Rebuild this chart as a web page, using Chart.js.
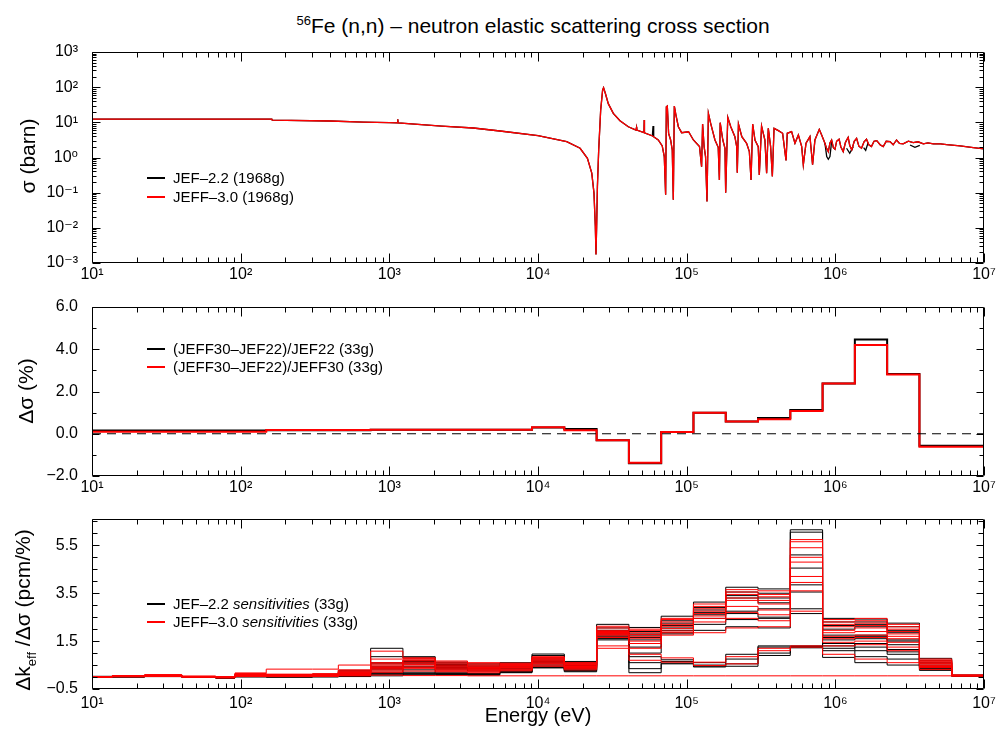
<!DOCTYPE html>
<html lang="en">
<head>
<meta charset="UTF-8">
<title>56Fe (n,n) - neutron elastic scattering cross section</title>
<script src="https://cdn.jsdelivr.net/npm/chart.js"></script>
<style>
  body { margin: 0; background: #fff; font-family: 'Liberation Sans', Arial, sans-serif; color: #000; }
  #page { position: relative; width: 996px; height: 738px; overflow: hidden; }
  canvas { position: absolute; left: 0; }
  .txt { position: absolute; white-space: nowrap; }
  .ytitle { position: absolute; white-space: nowrap; font-size: 21px; transform: translate(-50%, -50%) rotate(-90deg); }
  .leg { position: absolute; left: 147px; height: 18px; line-height: 18px; font-size: 15px; white-space: nowrap; display: flex; align-items: center; }
  .leg .ln { display: inline-block; width: 18px; margin-right: 8px; }
  .leg .blk { height: 1.5px; background: #000; }
  .leg .red { height: 2px; background: #ff0000; }
</style>
</head>
<body>
<div id="page">
  <div class="txt" style="left:533px; top:13px; font-size:21px; transform:translateX(-50%);"><sup style="font-size:13px;">56</sup>Fe (n,n) – neutron elastic scattering cross section</div>

  <canvas id="xsChart" width="996" height="250" style="top:40px"></canvas>
  <canvas id="dsChart" width="996" height="210" style="top:295px"></canvas>
  <canvas id="skChart" width="996" height="231" style="top:507px"></canvas>

  <div class="ytitle" style="left:28px; top:156px;">σ (barn)</div>
  <div class="ytitle" style="left:26px; top:391px;">Δσ (%)</div>
  <div class="ytitle" style="left:25px; top:610px;">Δk<sub style="font-size:13px;">eff</sub> /Δσ (pcm/%)</div>
  <div class="txt" style="left:538px; top:704px; font-size:20px; transform:translateX(-50%);">Energy (eV)</div>

  <div class="leg" style="top:169px;"><span class="ln blk"></span>JEF–2.2 (1968g)</div>
  <div class="leg" style="top:188px;"><span class="ln red"></span>JEFF–3.0 (1968g)</div>
  <div class="leg" style="top:340px;"><span class="ln blk"></span>(JEFF30–JEF22)/JEF22 (33g)</div>
  <div class="leg" style="top:358px;"><span class="ln red"></span>(JEFF30–JEF22)/JEFF30 (33g)</div>
  <div class="leg" style="top:595px;"><span class="ln blk"></span>JEF–2.2&nbsp;<i>sensitivities</i>&nbsp;(33g)</div>
  <div class="leg" style="top:613px;"><span class="ln red"></span>JEFF–3.0&nbsp;<i>sensitivities</i>&nbsp;(33g)</div>
</div>

<script>
// ---- data ----
const energyTicks = [1e1, 1e2, 1e3, 1e4, 1e5, 1e6, 1e7];
const sigmaTicks = [1e-3, 1e-2, 1e-1, 1e0, 1e1, 1e2, 1e3];
const dsigmaTicks = [-2, 0, 2, 4, 6];
const sensTicks = [-0.5, 1.5, 3.5, 5.5];

// 33-group boundaries (eV), part shown on the axis
const groupBounds = [10, 13.71, 22.60, 40.17, 67.90, 91.66, 148.6, 304.3, 454.0, 748.5, 1234, 2035, 3355, 5531,
  9119, 15030, 24790, 40870, 67380, 111100, 183200, 302000, 497900, 820900, 1353000, 2231000, 3679000, 6065000, 10000000];

// elastic cross section, [E (eV), sigma (b)]
const jeff30Points = [
  [10, 12.4], [162, 12.4], [163, 11.6], [399, 10.9], [668, 10.2], [1000, 9.75], [1135, 9.6], [1140, 12.2], [1145, 9.6],
  [2250, 7.85], [3670, 6.9], [5550, 5.67], [1.0e4, 4.18], [1.56e4, 2.83], [1.92e4, 1.83], [2.15e4, 0.95], [2.30e4, 0.36],
  [2.38e4, 0.097], [2.43e4, 0.011], [2.455e4, 0.00174], [2.48e4, 0.011], [2.51e4, 0.15], [2.56e4, 1.64], [2.64e4, 22.3],
  [2.72e4, 82], [2.76e4, 96], [2.84e4, 66], [2.97e4, 34], [3.21e4, 18], [3.56e4, 11.1], [4.05e4, 7.5], [4.56e4, 6.05],
  [4.60e4, 7.2], [4.62e4, 6.0], [5.16e4, 5.08], [5.18e4, 11.6], [5.20e4, 5.05], [5.9e4, 4.09], [6.44e4, 3.15],
  [6.85e4, 2.13], [7.07e4, 1.06], [7.22e4, 0.087], [7.30e4, 27.7], [7.41e4, 29], [7.56e4, 4.87], [7.80e4, 3.15],
  [8.0e4, 1.64], [8.13e4, 0.063], [8.26e4, 29], [8.47e4, 16.1], [8.79e4, 7.5], [9.25e4, 5.08], [1.03e5, 5.4],
  [1.11e5, 3.15], [1.22e5, 2.04], [1.26e5, 0.55], [1.28e5, 8.95], [1.31e5, 2.04], [1.34e5, 1.06], [1.37e5, 0.056],
  [1.40e5, 18], [1.45e5, 9.35], [1.55e5, 3.15], [1.63e5, 1.95], [1.66e5, 0.23], [1.68e5, 9.8], [1.75e5, 3.15],
  [1.81e5, 1.83], [1.83e5, 0.10], [1.89e5, 13.8], [1.98e5, 7.5], [2.11e5, 3.92], [2.17e5, 2.04], [2.19e5, 0.37],
  [2.23e5, 8.95], [2.35e5, 3.92], [2.53e5, 2.54], [2.64e5, 1.47], [2.71e5, 0.23], [2.78e5, 8.95], [2.88e5, 3.15],
  [3.03e5, 2.04], [3.08e5, 0.32], [3.19e5, 7.85], [3.36e5, 3.15], [3.45e5, 0.36], [3.54e5, 6.75], [3.67e5, 2.04],
  [3.77e5, 0.29], [3.87e5, 6.75], [4.14e5, 5.8], [4.42e5, 4.87], [4.66e5, 0.82], [4.75e5, 4.87], [5.08e5, 5.42],
  [5.35e5, 2.54], [5.64e5, 4.36], [5.94e5, 2.04], [6.09e5, 0.62], [6.35e5, 2.54], [6.75e5, 3.92], [7.03e5, 0.62],
  [7.29e5, 3.15], [7.80e5, 6.32], [8.09e5, 4.36], [8.51e5, 2.54], [8.7e5, 1.9], [8.97e5, 1.47], [9.2e5, 2.6],
  [9.44e5, 3.15], [9.7e5, 1.9], [9.95e5, 1.71], [1.02e6, 2.9], [1.06e6, 3.3], [1.09e6, 2.0], [1.13e6, 1.47],
  [1.17e6, 2.7], [1.22e6, 3.75], [1.25e6, 2.2], [1.29e6, 1.64], [1.34e6, 2.9], [1.39e6, 3.52], [1.44e6, 2.1],
  [1.50e6, 1.83], [1.56e6, 2.8], [1.62e6, 3.3], [1.68e6, 2.3], [1.75e6, 2.04], [1.82e6, 2.9], [1.90e6, 3.02],
  [2.0e6, 2.3], [2.10e6, 2.04], [2.2e6, 2.9], [2.33e6, 2.83], [2.45e6, 2.3], [2.58e6, 3.15], [2.7e6, 2.5],
  [2.86e6, 2.43], [3.1e6, 2.9], [3.34e6, 2.65], [3.6e6, 2.8], [3.91e6, 2.43], [4.2e6, 2.6], [4.56e6, 2.43],
  [5.1e6, 2.45], [5.61e6, 2.32], [6.9e6, 2.13], [8.47e6, 1.91], [1.0e7, 1.75]
];
// JEF-2.2 follows the same curve except these stretches
const jef22Segments = [
  [[5.88e4, 4.15], [5.94e4, 7.85], [6.0e4, 4.05]],
  [[8.51e5, 2.54], [8.75e5, 1.06], [8.97e5, 0.89], [9.2e5, 1.06], [9.44e5, 2.83]],
  [[1.19e6, 1.83], [1.25e6, 1.32], [1.32e6, 2.04]],
  [[1.55e6, 1.9], [1.6e6, 1.6], [1.66e6, 2.6]],
  [[3.18e6, 2.27], [3.43e6, 1.95], [3.7e6, 2.2]]
];

// relative difference per group (%)
const dsigJef22 = [0.15, 0.15, 0.15, 0.15, 0.15, 0.15, 0.17, 0.17, 0.17, 0.19, 0.19, 0.19, 0.19, 0.19,
  0.29, 0.22, -0.31, -1.40, 0.08, 0.99, 0.58, 0.74, 1.13, 2.38, 4.46, 2.83, -0.57, -0.57];
const dsigJeff30 = [0.09, 0.09, 0.09, 0.09, 0.09, 0.09, 0.18, 0.18, 0.18, 0.19, 0.19, 0.19, 0.19, 0.19,
  0.31, 0.17, -0.31, -1.37, 0.08, 0.99, 0.58, 0.69, 1.08, 2.38, 4.20, 2.80, -0.61, -0.61];

// k-eff sensitivities per group (pcm/%), one row per benchmark
const sensJef22 = [
  [0.03,0.05,0.08,0.02,0.00,0.12,0.10,0.12,0.28,1.20,0.85,0.62,0.55,0.60,0.96,0.65,2.20,2.07,2.54,3.13,3.75,3.68,6.15,2.45,2.42,2.25,0.78,0.08],
  [0.02,0.04,0.07,0.02,0.00,0.10,0.08,0.10,0.22,0.85,0.80,0.58,0.50,0.55,0.90,0.60,2.05,1.90,2.35,2.90,3.55,3.50,6.05,2.30,2.30,2.10,0.70,0.07],
  [0.02,0.04,0.06,0.02,-0.02,0.08,0.06,0.08,0.18,0.60,0.70,0.52,0.45,0.50,0.80,0.55,1.95,1.80,2.25,2.80,3.40,3.30,5.10,2.15,2.20,1.95,0.62,0.07],
  [0.01,0.03,0.06,0.01,-0.02,0.06,0.05,0.07,0.15,0.55,0.65,0.48,0.40,0.45,0.75,0.50,1.90,1.75,2.15,2.70,3.30,3.10,4.55,2.00,2.10,1.85,0.58,0.06],
  [0.01,0.03,0.05,0.01,-0.03,0.05,0.04,0.06,0.12,0.45,0.60,0.45,0.38,0.40,0.70,0.48,1.85,1.65,2.05,2.60,2.75,2.85,3.85,1.75,1.75,1.55,0.50,0.06],
  [0.01,0.02,0.05,0.00,-0.03,0.04,0.03,0.05,0.10,0.40,0.55,0.40,0.35,0.38,0.65,0.45,1.80,1.55,1.95,2.45,2.65,2.50,3.55,1.65,1.70,1.50,0.45,0.05],
  [0.01,0.02,0.04,0.00,-0.03,0.03,0.02,0.04,0.08,0.35,0.45,0.35,0.30,0.35,0.60,0.40,1.70,1.25,1.85,2.20,2.40,2.45,2.85,1.55,1.60,1.35,0.42,0.05],
  [0.00,0.02,0.04,0.00,-0.03,0.03,0.02,0.03,0.06,0.30,0.40,0.30,0.25,0.30,0.55,0.35,1.62,1.00,1.80,1.95,2.10,2.05,2.65,1.30,1.40,1.15,0.40,0.05],
  [0.00,0.01,0.03,0.00,-0.03,0.02,0.01,0.02,0.05,0.20,0.30,0.20,0.15,0.25,0.50,0.30,1.60,0.85,0.72,0.60,0.95,1.30,1.30,1.20,1.25,1.05,0.38,0.05],
  [0.00,0.01,0.03,0.00,-0.03,0.02,0.01,0.02,0.04,0.15,0.20,0.15,0.12,0.22,0.45,0.28,1.55,0.60,0.65,0.50,0.75,1.25,1.22,0.82,0.60,0.50,0.35,0.05],
  [0.00,0.01,0.02,0.00,-0.04,0.01,0.00,0.01,0.03,0.10,0.15,0.12,0.10,0.20,0.40,0.25,1.85,0.35,0.58,0.45,0.55,1.00,1.28,1.40,1.10,0.95,0.30,0.04],
  [0.00,0.00,0.02,0.00,-0.04,0.01,0.00,0.01,0.02,0.05,0.10,0.10,0.08,0.18,0.38,0.22,1.75,0.18,0.55,0.42,0.45,0.90,1.25,1.10,0.85,0.75,0.28,0.04]
];
const sensJeff30 = [
  [0.02,0.05,0.08,0.03,0.00,0.15,0.12,0.14,0.30,1.08,0.80,0.67,0.60,0.58,0.85,0.60,2.12,2.00,2.45,3.05,3.65,3.60,5.74,2.40,2.45,2.20,0.75,0.08],
  [0.02,0.05,0.08,0.02,0.00,0.12,0.10,0.12,0.26,0.75,0.78,0.62,0.55,0.55,0.82,0.58,2.05,1.95,2.40,2.95,3.55,3.45,5.65,2.30,2.35,2.10,0.70,0.08],
  [0.02,0.04,0.07,0.02,-0.01,0.10,0.08,0.10,0.22,0.60,0.72,0.55,0.50,0.52,0.78,0.55,1.95,1.85,2.30,2.85,3.45,3.35,5.40,2.20,2.25,2.00,0.66,0.07],
  [0.01,0.04,0.07,0.02,-0.01,0.09,0.07,0.09,0.20,0.55,0.68,0.50,0.46,0.48,0.74,0.52,1.90,1.78,2.20,2.75,3.30,3.20,5.00,2.10,2.15,1.90,0.62,0.07],
  [0.01,0.03,0.06,0.01,-0.02,0.08,0.06,0.08,0.18,0.50,0.62,0.46,0.42,0.45,0.70,0.50,1.86,1.70,2.12,2.65,3.20,3.05,4.80,1.95,2.05,1.80,0.58,0.06],
  [0.01,0.03,0.06,0.01,-0.02,0.07,0.05,0.07,0.15,0.45,0.58,0.42,0.40,0.42,0.66,0.47,1.82,1.62,2.02,2.55,2.95,2.80,4.20,1.85,1.90,1.70,0.55,0.06],
  [0.01,0.03,0.05,0.01,-0.02,0.06,0.05,0.06,0.13,0.40,0.52,0.38,0.36,0.40,0.62,0.44,1.78,1.50,1.92,2.45,2.70,2.60,3.95,1.70,1.75,1.60,0.50,0.06],
  [0.01,0.02,0.05,0.01,-0.03,0.05,0.04,0.05,0.11,0.35,0.46,0.34,0.32,0.37,0.58,0.40,1.72,1.40,1.85,2.30,2.45,2.35,3.60,1.60,1.65,1.45,0.47,0.06],
  [0.01,0.02,0.04,0.01,-0.03,0.04,0.03,0.04,0.09,0.30,0.40,0.30,0.28,0.33,0.55,0.38,1.65,1.20,1.75,1.85,2.05,2.10,2.75,1.45,1.50,1.25,0.44,0.05],
  [0.00,0.02,0.04,0.00,-0.03,0.03,0.02,0.03,0.07,0.25,0.35,0.26,0.24,0.30,0.50,0.35,1.30,0.95,0.80,0.62,0.85,1.20,1.30,1.30,1.35,1.10,0.40,0.05],
  [0.02,0.06,0.10,0.04,0.02,0.17,0.33,0.33,0.50,0.20,0.25,0.22,0.18,0.26,0.45,0.30,1.20,0.70,0.62,0.48,0.55,1.10,1.25,0.95,0.75,0.60,0.32,0.05],
  [0.00,0.01,0.02,0.00,-0.02,0.02,0.02,0.03,0.05,0.08,0.06,0.06,0.05,0.05,0.05,0.05,0.05,0.05,0.05,0.05,0.05,0.05,0.05,0.05,0.05,0.05,0.05,0.05]
];

// ---- helpers ----
Chart.defaults.font.family = "'Liberation Sans', Arial, 'DejaVu Sans', sans-serif";
Chart.defaults.color = '#000';

const SUP = {'-': '\u207B', '0': '\u2070', '1': '\u00B9', '2': '\u00B2', '3': '\u00B3', '4': '\u2074',
  '5': '\u2075', '6': '\u2076', '7': '\u2077', '8': '\u2078', '9': '\u2079'};
function powLabel(v) {
  const e = Math.round(Math.log10(v));
  return '10' + String(e).split('').map(c => SUP[c]).join('');
}
function fixedLabel(v) {
  return (v < 0 ? '\u2212' : '') + Math.abs(v).toFixed(1);
}

// group values -> step points
function steps(vals) {
  const pts = vals.map((v, i) => ({x: groupBounds[i], y: v}));
  pts.push({x: groupBounds[vals.length], y: vals[vals.length - 1]});
  return pts;
}

const energyMinor = [];
for (let d = 1; d < 7; d++) for (let m = 2; m < 10; m++) energyMinor.push(m * Math.pow(10, d));
const sigmaMinor = [];
for (let d = -3; d < 3; d++) for (let m = 2; m < 10; m++) sigmaMinor.push(m * Math.pow(10, d));

// frame with inward ticks on all four sides
const frameTicks = {
  id: 'frameTicks',
  afterDraw(chart, args, o) {
    const {ctx, chartArea: a} = chart;
    const x = chart.scales.x, y = chart.scales.y;
    const L = Math.round(a.left) + 0.5, R = Math.round(a.right) - 0.5;
    const T = Math.round(a.top) + 0.5, B = Math.round(a.bottom) - 0.5;
    ctx.save();
    ctx.strokeStyle = '#000';
    ctx.lineWidth = 1;
    ctx.beginPath();
    ctx.rect(L, T, R - L, B - T);
    const xt = (v, len) => {
      const p = Math.round(x.getPixelForValue(v)) + 0.5;
      ctx.moveTo(p, B); ctx.lineTo(p, B - len);
      ctx.moveTo(p, T); ctx.lineTo(p, T + len);
    };
    const yt = (v, len) => {
      const p = Math.round(y.getPixelForValue(v)) + 0.5;
      ctx.moveTo(L, p); ctx.lineTo(L + len, p);
      ctx.moveTo(R, p); ctx.lineTo(R - len, p);
    };
    energyTicks.forEach(v => xt(v, 9));
    energyMinor.forEach(v => xt(v, 5));
    o.major.forEach(v => yt(v, o.majorLen));
    o.minor.forEach(v => yt(v, o.minorLen));
    ctx.stroke();
    ctx.restore();
  }
};

function energyAxis(pad, h) {
  return {
    type: 'logarithmic', min: 10, max: 1e7,
    grid: {display: false, drawTicks: false}, border: {display: false},
    afterBuildTicks: s => { s.ticks = energyTicks.map(v => ({value: v})); },
    afterFit: s => { s.height = h; s.paddingLeft = 0; s.paddingRight = 0; },
    ticks: {font: {size: 16}, padding: pad, maxRotation: 0, autoSkip: false, callback: v => powLabel(v)}
  };
}
function valueAxis(type, min, max, ticks, fmt) {
  return {
    type: type, min: min, max: max,
    grid: {display: false, drawTicks: false}, border: {display: false},
    afterBuildTicks: s => { s.ticks = ticks.map(v => ({value: v})); },
    afterFit: s => { s.width = 92; s.paddingTop = 0; s.paddingBottom = 0; },
    ticks: {font: {size: 16}, padding: 14, autoSkip: false, callback: fmt}
  };
}
function baseOptions(x, y, frame) {
  return {
    responsive: false, devicePixelRatio: 1, animation: false, events: [],
    layout: {padding: {left: 0, right: 12, top: 12, bottom: 0}},
    elements: {point: {radius: 0}, line: {tension: 0}},
    plugins: {legend: {display: false}, tooltip: {enabled: false}, frameTicks: frame},
    scales: {x: x, y: y}
  };
}

// ---- panel 1: cross section ----
const xsSets = [
  {data: jeff30Points.map(p => ({x: p[0], y: p[1]})), borderColor: '#000', borderWidth: 1.3, order: 2},
  ...jef22Segments.map(seg => ({data: seg.map(p => ({x: p[0], y: p[1]})), borderColor: '#000', borderWidth: 1.3, order: 2})),
  {data: jeff30Points.map(p => ({x: p[0], y: p[1]})), borderColor: '#f00', borderWidth: 1.3, order: 1}
];
new Chart(document.getElementById('xsChart'), {
  type: 'line',
  data: {datasets: xsSets},
  options: baseOptions(energyAxis(2, 27), valueAxis('logarithmic', 1e-3, 1e3, sigmaTicks, v => powLabel(v)),
    {major: sigmaTicks, minor: sigmaMinor, majorLen: 8, minorLen: 4}),
  plugins: [frameTicks]
});

// ---- panel 2: relative difference ----
new Chart(document.getElementById('dsChart'), {
  type: 'line',
  data: {datasets: [
    {data: [{x: 10, y: 0}, {x: 1e7, y: 0}], borderColor: '#000', borderWidth: 1, borderDash: [9, 6], order: 0},
    {data: steps(dsigJef22), stepped: true, borderColor: '#000', borderWidth: 2, order: 2},
    {data: steps(dsigJeff30), stepped: true, borderColor: '#f00', borderWidth: 2, order: 1}
  ]},
  options: baseOptions(energyAxis(2, 29), valueAxis('linear', -2, 6, dsigmaTicks, fixedLabel),
    {major: dsigmaTicks, minor: [-1, 1, 3, 5], majorLen: 7, minorLen: 4}),
  plugins: [frameTicks]
});

// ---- panel 3: sensitivities ----
const skSets = [
  ...sensJef22.map(r => ({data: steps(r), stepped: true, borderColor: '#000', borderWidth: 1, order: 2})),
  ...sensJeff30.map(r => ({data: steps(r), stepped: true, borderColor: '#f00', borderWidth: 1, order: 1}))
];
new Chart(document.getElementById('skChart'), {
  type: 'line',
  data: {datasets: skSets},
  options: baseOptions(energyAxis(5, 49), valueAxis('linear', -0.5, 6.6, sensTicks, fixedLabel),
    {major: sensTicks, minor: [0, 0.5, 1, 2, 2.5, 3, 4, 4.5, 5, 6, 6.5], majorLen: 7, minorLen: 5}),
  plugins: [frameTicks]
});
</script>
</body>
</html>
